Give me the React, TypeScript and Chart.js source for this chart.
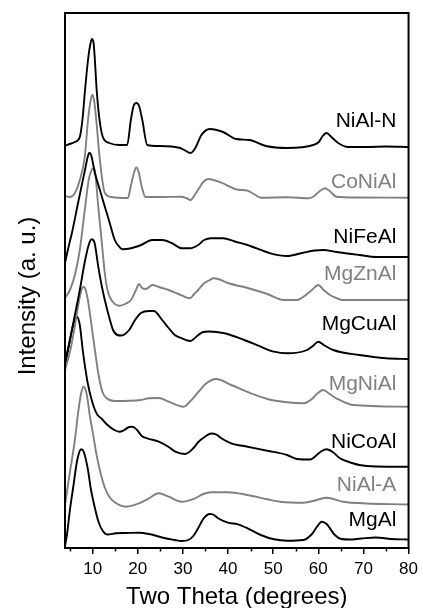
import React, { useEffect, useRef } from 'react';
import { Chart, registerables } from 'chart.js';

Chart.register(...registerables);

// Two-theta (degrees) / intensity (a.u., stacked) pairs
const niAlN: number[][] = [
  [3.87, 402], [4.3, 403], [6.06, 406], [7.15, 411], [7.8, 431], [8.25, 455], [8.97, 488], [9.45, 503],
  [9.84, 509], [10.2, 505], [10.94, 455], [11.53, 428], [12.25, 411], [13.71, 405], [15.9, 403],
  [17.65, 403], [18.46, 428], [19.07, 442], [19.69, 445], [20.28, 442], [21.0, 428], [22.1, 403],
  [24.65, 402], [29.4, 400], [30.3, 398], [31.7, 395], [32.75, 400], [34.1, 413], [35.97, 419],
  [38.9, 416], [41.8, 409], [44.7, 408], [48.4, 402], [53.1, 400], [58.9, 403], [60.1, 406],
  [60.97, 412], [61.84, 415], [62.9, 411], [64.4, 405], [66.6, 401], [70.6, 401], [75.0, 401.5], [80, 401],
];
const coNiAl: number[][] = [
  [3.87, 352], [4.96, 351], [6.06, 355], [7.15, 368], [8.25, 391], [8.97, 428], [9.56, 448], [9.93, 453],
  [10.3, 448], [10.8, 428], [11.53, 391], [12.7, 355], [14.15, 351], [17.8, 350], [18.5, 363], [19.2, 376],
  [19.7, 380.5], [20.2, 376], [20.8, 363], [21.7, 351], [24.65, 351], [29.7, 351.3], [30.7, 350],
  [31.7, 348], [32.75, 354], [33.8, 361.3], [34.5, 366], [35.6, 369], [38.5, 365.3], [41.8, 358.7],
  [44.3, 357.3], [45.7, 354], [47.3, 350.3], [53.1, 350.7], [57.8, 349.7], [58.8, 351], [60.1, 356],
  [61.5, 359.7], [62.5, 357], [64.0, 351.3], [68.4, 350.5], [80, 350.3],
];
const niFeAl: number[][] = [
  [3.87, 285], [4.5, 298], [5.4, 315], [6.9, 348], [8.3, 378], [8.9, 391], [9.27, 395.3], [9.66, 393],
  [10.5, 375], [11.6, 358], [12.7, 341.3], [13.8, 324.7], [14.9, 308], [16.0, 300.7], [16.7, 298.7],
  [18.5, 299.7], [20.7, 303], [23.2, 308], [25.4, 308], [27.5, 305], [29.75, 299.7], [31.6, 299.7],
  [33.4, 303], [34.7, 308], [36.3, 309.7], [38.9, 309.7], [41.5, 306.5], [44.3, 303], [49.4, 294.7],
  [53.1, 292], [56.4, 295], [59.2, 297.5], [61.1, 298], [64.0, 296], [69.1, 293], [72.8, 291], [80, 291],
];
const mgZnAl: number[][] = [
  [3.87, 250], [4.96, 258], [6.06, 273], [7.15, 298], [8.25, 338], [9.12, 368], [9.67, 377], [10.15, 379.7],
  [10.54, 376], [11.24, 341.3], [11.97, 308], [12.69, 275], [13.28, 258], [14.15, 248], [15.97, 242.3],
  [17.2, 244], [18.5, 248], [19.6, 258], [20.28, 264], [20.93, 260], [21.8, 259], [23.2, 263],
  [24.65, 261], [26.84, 258], [29.03, 254], [31.6, 249.7], [32.5, 254], [33.4, 258], [34.5, 264],
  [35.96, 268], [36.7, 269.7], [37.8, 269], [39.97, 265], [44.34, 260], [48.7, 254], [52.4, 248],
  [55.3, 248], [56.7, 251.3], [58.6, 258], [60.0, 263], [61.2, 258], [62.6, 253], [64.0, 250],
  [65.5, 248], [80, 248],
];
const mgCuAl: number[][] = [
  [3.87, 186], [4.96, 208], [6.06, 233], [7.15, 258], [8.25, 286], [9.12, 303], [9.78, 308.7], [10.43, 305],
  [11.24, 281.3], [11.97, 263], [12.69, 248], [13.71, 230], [14.52, 218], [15.47, 213], [16.34, 212.5],
  [18.09, 218], [19.4, 228], [20.7, 235], [22.47, 237], [23.56, 237], [25.4, 228], [26.84, 220],
  [28.2, 213], [29.75, 209.7], [31.6, 207], [33.4, 213], [34.5, 216], [35.8, 216.5], [39.2, 214.7],
  [43.6, 208], [47.25, 201.3], [50.2, 196.3], [53.1, 194.7], [57.5, 198], [58.8, 202], [60.0, 206.3],
  [61.2, 203], [63.3, 198], [69.1, 193], [75.0, 189.7], [80, 189],
];
const mgNiAl: number[][] = [
  [3.87, 178], [4.96, 196], [6.06, 222], [6.93, 246], [7.59, 259], [7.96, 261.3], [8.46, 258], [9.12, 243],
  [9.78, 221.3], [10.65, 193], [11.31, 173], [12.18, 156], [13.06, 150], [14.9, 147], [20.7, 148],
  [22.47, 149.7], [24.65, 150], [26.84, 146.3], [30.1, 141.3], [31.9, 148], [33.4, 156], [35.2, 164.7],
  [37.4, 169], [40.7, 163], [45.1, 154.7], [48.7, 149], [53.1, 145.7], [56.7, 144.7], [58.6, 149],
  [59.66, 154], [61.1, 158], [62.5, 154], [64.0, 149.7], [67.7, 143], [80, 141.3],
];
const niCoAl: number[][] = [
  [3.87, 181], [4.96, 208], [5.84, 226], [6.5, 231.3], [7.15, 223], [7.8, 198], [8.31, 181.3], [8.9, 165],
  [9.78, 148], [10.43, 139], [11.09, 133], [11.9, 129.7], [13.3, 123], [14.8, 118], [15.9, 116.3],
  [17.0, 118], [18.09, 121], [18.8, 121.3], [19.84, 118], [20.9, 112], [22.1, 109.7], [24.65, 106.3],
  [26.84, 101], [28.3, 96.3], [30.5, 94], [32.3, 99.7], [33.4, 106], [34.9, 111.3], [36.3, 114.5],
  [37.4, 113.5], [38.5, 109.7], [40.7, 104.7], [44.34, 101.3], [48.7, 97.3], [53.1, 93], [55.3, 89],
  [58.2, 88.5], [59.66, 93], [60.75, 97], [61.84, 98.7], [63.2, 96], [64.8, 89.7], [66.2, 87],
  [69.1, 83], [72.8, 81.5], [80, 81.3],
];
const niAlA: number[][] = [
  [3.87, 43], [4.96, 76], [6.06, 108], [6.71, 133], [7.37, 153], [7.96, 161.3], [8.46, 158], [8.9, 148],
  [9.34, 133], [10.06, 114.7], [10.87, 93], [11.75, 75], [12.62, 61.3], [13.71, 51], [15.2, 44.7],
  [17.37, 41.3], [20.28, 44.7], [22.47, 49.7], [24.65, 54.7], [26.84, 51.3], [29.75, 46.3], [32.7, 49.7],
  [34.5, 54], [36.3, 55.7], [39.97, 55.7], [44.34, 53], [48.7, 48.7], [51.6, 46.3], [56.7, 45.3],
  [59.66, 48], [61.84, 50.3], [65.5, 46.3], [68.4, 45], [80, 43.5],
];
const mgAl: number[][] = [
  [3.87, 2], [4.3, 13], [4.96, 38], [5.7, 61], [6.5, 86], [7.04, 96], [7.5, 98.7], [8.03, 96], [8.97, 78],
  [9.56, 60], [10.43, 41.3], [11.31, 26], [12.25, 17], [13.28, 13.5], [15.2, 14.7], [17.37, 15],
  [20.28, 15.3], [22.47, 14], [26.1, 9.7], [28.2, 8], [29.75, 7], [31.2, 8], [32.3, 12], [33.4, 20],
  [34.5, 29], [35.96, 34], [36.7, 33.5], [37.8, 29.7], [39.97, 25.3], [42.15, 23.7], [44.34, 19.7],
  [47.25, 13], [50.2, 8.7], [53.1, 7.3], [56.7, 8], [58.6, 14], [59.66, 21], [60.75, 26.3], [61.84, 24],
  [63.66, 13], [65.1, 9], [66.9, 8.5], [69.5, 9.5], [72.8, 10.5], [76.1, 9], [80, 8.5],
];

const seriesNames = ['NiAl-N', 'CoNiAl', 'NiFeAl', 'MgZnAl', 'MgCuAl', 'MgNiAl', 'NiCoAl', 'NiAl-A', 'MgAl'];
const seriesData = [niAlN, coNiAl, niFeAl, mgZnAl, mgCuAl, mgNiAl, niCoAl, niAlA, mgAl];
const seriesColors = ['#000000', '#808080', '#000000', '#808080', '#000000', '#808080', '#000000', '#808080', '#000000'];
// intensity level (a.u.) of each name label's baseline
const labelLevels = [421, 360, 305, 268, 218, 158, 100, 57, 22];
const majorTicks = [10, 20, 30, 40, 50, 60, 70, 80];
const minorTicks = [5, 15, 25, 35, 45, 55, 65, 75];

const X_MIN = 3.87;
const X_MAX = 80;
const Y_MIN = 0;
const Y_MAX = 535;

const FONT = '"Liberation Sans", Arial, sans-serif';

const decorPlugin = {
  id: 'decor',
  afterDatasetsDraw(chart: any) {
    const { ctx, chartArea, scales } = chart;
    const xs = scales.x;
    const ys = scales.y;
    ctx.save();
    // frame
    ctx.strokeStyle = '#000';
    ctx.lineWidth = 2;
    ctx.strokeRect(chartArea.left, chartArea.top, chartArea.right - chartArea.left, chartArea.bottom - chartArea.top);
    // minor ticks
    ctx.lineWidth = 1.5;
    ctx.beginPath();
    for (const v of minorTicks) {
      const px = Math.round(xs.getPixelForValue(v)) + 0.5;
      ctx.moveTo(px, chartArea.bottom);
      ctx.lineTo(px, chartArea.bottom + 3.5);
    }
    ctx.stroke();
    // series labels
    ctx.font = `21px ${FONT}`;
    ctx.textAlign = 'right';
    ctx.textBaseline = 'alphabetic';
    const lx = xs.getPixelForValue(77.3);
    seriesNames.forEach((name, i) => {
      ctx.fillStyle = seriesColors[i];
      ctx.fillText(name, lx, ys.getPixelForValue(labelLevels[i]));
    });
    // axis titles
    ctx.fillStyle = '#000';
    ctx.font = `24px ${FONT}`;
    ctx.textAlign = 'center';
    ctx.fillText('Two Theta (degrees)', (chartArea.left + chartArea.right) / 2, 604);
    ctx.translate(35, 296);
    ctx.rotate(-Math.PI / 2);
    ctx.fillText('Intensity (a. u.)', 0, 0);
    ctx.restore();
  },
};

export default function App() {
  const ref = useRef<HTMLCanvasElement | null>(null);
  useEffect(() => {
    if (!ref.current) return;
    const chart = new Chart(ref.current, {
      type: 'line',
      data: {
        datasets: seriesData.map((pts, i) => ({
          label: seriesNames[i],
          data: pts.map(([x, y]) => ({ x, y })),
          borderColor: seriesColors[i],
          borderWidth: 1.9,
          pointRadius: 0,
          fill: false,
          cubicInterpolationMode: 'monotone' as const,
        })),
      },
      options: {
        animation: false,
        responsive: true,
        maintainAspectRatio: false,
        layout: { padding: { left: 65, top: 13, right: 10, bottom: 0 } },
        plugins: { legend: { display: false }, tooltip: { enabled: false }, title: { display: false } },
        scales: {
          x: {
            type: 'linear',
            min: X_MIN,
            max: X_MAX,
            afterBuildTicks: (axis: any) => {
              axis.ticks = majorTicks.map((v) => ({ value: v }));
            },
            afterFit: (scale: any) => {
              scale.height = 60;
            },
            grid: { display: true, drawOnChartArea: false, drawTicks: true, tickLength: 6, color: '#000', lineWidth: 1.5 },
            border: { display: false },
            ticks: {
              color: '#000',
              font: { family: FONT, size: 17 },
              padding: 5,
              maxRotation: 0,
              autoSkip: false,
              callback: (v: any) => String(v),
            },
          },
          y: {
            type: 'linear',
            display: false,
            min: Y_MIN,
            max: Y_MAX,
          },
        },
      },
      plugins: [decorPlugin],
    } as any);
    return () => chart.destroy();
  }, []);
  return (
    <div style={{ position: 'fixed', left: 0, top: 0, width: 423, height: 608, background: '#fff' }}>
      <canvas ref={ref} />
    </div>
  );
}
